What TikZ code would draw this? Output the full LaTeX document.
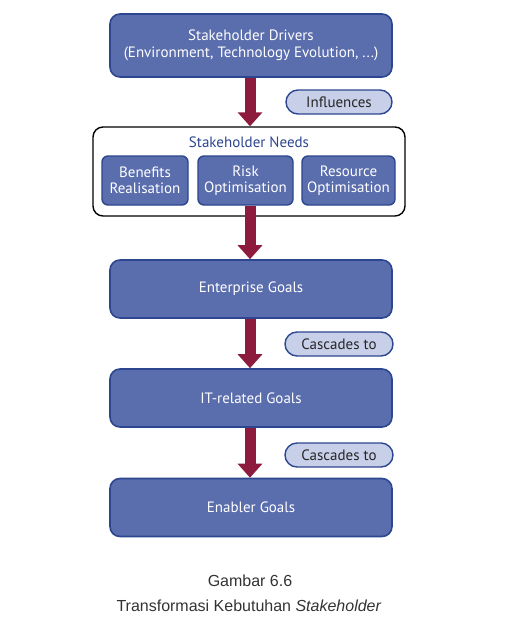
\documentclass[tikz,border=0pt]{standalone}
\usepackage{fontspec}
\setmainfont{PT Sans}
\newfontfamily\capfont{Liberation Sans}
\usetikzlibrary{arrows.meta}
\definecolor{boxfill}{HTML}{5A6DAD}
\definecolor{boxline}{HTML}{2C4690}
\definecolor{pillfill}{HTML}{C8CFE8}
\definecolor{arrowred}{HTML}{8C1B3D}
\definecolor{titleblue}{HTML}{2C4690}
\definecolor{captext}{HTML}{333333}
\tikzset{
  bigbox/.style={draw=boxline, fill=boxfill, line width=1.6pt, rounded corners=10pt,
    minimum width=282pt, inner sep=0pt, text=white, font=\fontsize{15}{17}\selectfont, align=center},
  smallbox/.style={draw=boxline, fill=boxfill, line width=1.4pt, rounded corners=6pt,
    minimum height=49pt, inner sep=0pt, text=white, font=\fontsize{15}{16}\selectfont, align=center},
  pill/.style={draw=boxline, fill=pillfill, line width=1.4pt, rounded corners=12pt,
    minimum height=24pt, minimum width=106pt, inner sep=0pt, text=black!85, font=\fontsize{15}{17}\selectfont},
  outerbox/.style={draw=black, fill=white, line width=1.4pt, rounded corners=10pt, inner sep=0pt},
  flow/.style={draw=arrowred, line width=11pt, -{Triangle[length=14pt,width=24pt]}},
  caption/.style={font=\capfont\fontsize{16}{18}\selectfont, text=captext}
}
\begin{document}
\begin{tikzpicture}[x=1pt,y=-1pt]
\useasboundingbox (0,0) rectangle (518,627);
\node[bigbox, minimum height=63pt] (drv) at (251,45.5) {Stakeholder Drivers\\(Environment, Technology Evolution, ...)};
\node[pill] (infl) at (339,102) {Influences};
\node[outerbox, minimum width=312pt, minimum height=89pt] (needs) at (249,171.5) {};
\node[font=\fontsize{15}{17}\selectfont, text=titleblue] (needst) at (249,142) {Stakeholder Needs};
\node[smallbox, minimum width=86pt] (ben) at (145,180.5) {Benefits\\Realisation};
\node[smallbox, minimum width=95pt] (risk) at (245.5,180.5) {Risk\\Optimisation};
\node[smallbox, minimum width=93pt] (res) at (348.5,180.5) {Resource\\Optimisation};
\node[bigbox, minimum height=58pt] (ent) at (251,289) {Enterprise Goals};
\node[pill, minimum width=108pt] (cas1) at (339,344) {Cascades to};
\node[bigbox, minimum height=58pt] (itg) at (251,398) {IT-related Goals};
\node[pill, minimum width=108pt] (cas2) at (339,455) {Cascades to};
\node[bigbox, minimum height=58pt] (ena) at (251,507.5) {Enabler Goals};
\draw[flow] (drv.south -| 250,0) -- (needs.north -| 250,0);
\draw[flow] (needs.south -| 250,0) ++(0,-11) -- (ent.north -| 250,0);
\draw[flow] (ent.south -| 250,0) -- (itg.north -| 250,0);
\draw[flow] (itg.south -| 250,0) -- (ena.north -| 250,0);
\node[caption] (cap1) at (250,581) {Gambar 6.6};
\node[caption] (cap2) at (249,606) {Transformasi Kebutuhan \textit{Stakeholder}};
\end{tikzpicture}
\end{document}
